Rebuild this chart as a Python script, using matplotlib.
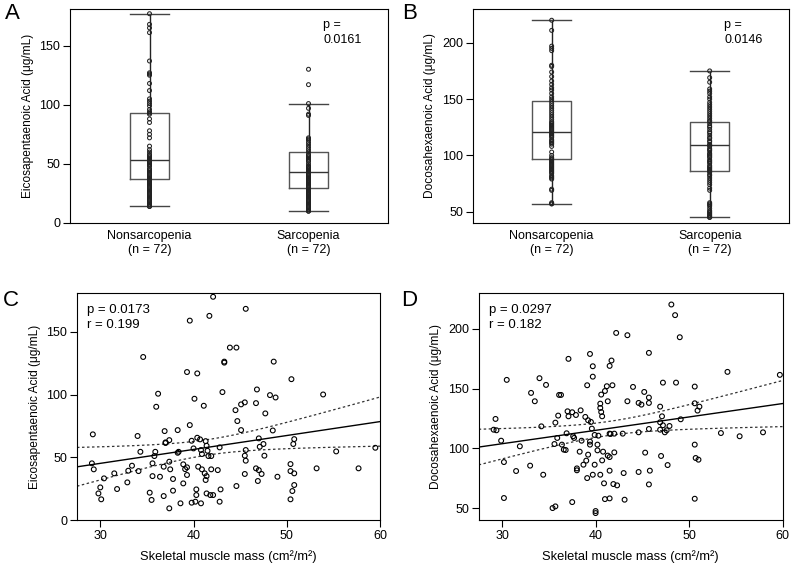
import matplotlib.pyplot as plt
import numpy as np

plt.rcParams['font.family'] = ['Liberation Sans', 'DejaVu Sans']
plt.rcParams['font.size'] = 9

groups = ['Nonsarcopenia\n(n = 72)', 'Sarcopenia\n(n = 72)']

epa_box = [[14, 37, 53, 93, 177], [10, 30, 43, 60, 101]]
dha_box = [[57, 97, 121, 148, 220], [45, 86, 109, 130, 175]]

# individual values in the strips (ug/mL)
epa_nonsarc = [177, 168, 165, 161, 137, 127, 126, 125, 118, 112, 105, 103, 101, 99, 96,
               94, 93, 92, 88, 85, 78, 75, 72, 65, 62, 60, 58, 57, 56, 55, 54, 53, 52, 51,
               50, 49, 48, 46, 45, 44, 43, 42, 41, 40, 39, 38, 37, 37, 36, 35, 34, 33, 32,
               31, 30, 29, 28, 27, 26, 25, 24, 23, 22, 21, 20, 19, 18, 17, 16, 15, 14, 14]
epa_sarc = [130, 117, 101, 97, 92, 91, 72, 71, 70, 68, 66, 64, 62, 60, 58, 57, 56, 55, 54,
            53, 52, 50, 48, 47, 46, 45, 44, 43, 42, 41, 40, 39, 38, 37, 36, 35, 34, 33, 32,
            31, 30, 29, 28, 27, 26, 25, 24, 23, 22, 21, 20, 19, 18, 17, 16, 15, 14, 13, 12,
            11, 10, 10, 22, 24, 26, 28, 34, 36, 38, 44, 46, 48]
dha_nonsarc = [220, 211, 197, 195, 193, 180, 179, 174, 170, 166, 163, 160, 158, 155, 152,
               150, 148, 146, 144, 142, 140, 138, 136, 134, 132, 130, 128, 126, 124, 122,
               121, 120, 119, 118, 116, 114, 112, 110, 108, 103, 100, 98, 97, 96, 95, 93,
               92, 90, 89, 88, 87, 86, 85, 84, 82, 81, 80, 79, 70, 69, 58, 57, 57, 125,
               127, 111, 113, 117, 123, 129, 91, 94]
dha_sarc = [175, 169, 165, 159, 157, 155, 152, 150, 147, 145, 143, 141, 139, 137, 135, 133,
            131, 130, 128, 126, 125, 123, 121, 120, 118, 116, 115, 113, 112, 110, 109, 108,
            106, 105, 104, 102, 101, 100, 99, 98, 96, 95, 94, 93, 91, 90, 89, 88, 87, 86,
            85, 83, 82, 80, 78, 76, 74, 71, 69, 58, 57, 56, 55, 53, 51, 50, 49, 48, 47, 46,
            45, 45]

# panel C: skeletal muscle mass vs EPA
smm_c = [29.2, 29.1, 29.3, 30.4, 30.0, 29.8, 30.1, 31.5, 31.8, 33.0, 32.9, 33.4, 34.0, 34.3,
         34.1, 35.3, 35.5, 35.6, 35.6, 35.8, 35.9, 36.0, 36.2, 36.4, 36.8, 36.8, 36.9, 37.0,
         37.0, 37.4, 37.4, 37.5, 37.4, 37.8, 37.8, 38.3, 38.3, 38.4, 38.6, 38.9, 39.1, 38.9,
         39.3, 39.3, 39.3, 39.6, 39.8, 40.0, 40.1, 39.8, 40.2, 40.4, 40.4, 40.5, 40.7, 40.8,
         40.9, 40.3, 40.3, 40.8, 40.9, 41.1, 41.3, 41.4, 41.5, 41.6, 41.9, 41.4, 41.2, 41.3,
         41.4, 41.8, 41.9, 42.1, 42.6, 42.8, 42.9, 42.8, 43.1,
         50.5, 46.8, 48.2, 48.8, 53.9, 45.5, 45.1, 46.7, 44.5, 47.7, 44.7, 45.1, 48.5, 47.0,
         50.8, 47.5, 47.1, 50.7, 45.6, 45.5, 45.6, 47.6, 55.3, 59.5, 46.7, 47.0, 47.3, 45.5,
         50.4, 50.4, 50.8, 53.2, 57.7, 49.0, 46.9, 44.6, 50.8, 50.6, 50.4,
         34.6, 39.6, 41.7, 42.1, 45.6, 43.3, 43.3, 43.9, 44.6, 48.6]
epa_c = [68.3, 45.2, 40.4, 33.2, 26.0, 21.2, 16.5, 37.2, 24.7, 39.3, 30.0, 43.3, 67.0, 54.4,
         39.0, 21.8, 16.0, 45.2, 35.0, 51.0, 54.4, 90.3, 100.7, 34.5, 42.5, 19.1, 70.9, 61.9,
         61.4, 63.7, 46.5, 40.4, 9.3, 32.7, 23.4, 71.7, 53.6, 54.4, 13.3, 44.4, 40.6, 29.2,
         42.0, 35.9, 118.0, 75.7, 63.2, 57.1, 96.7, 13.8, 14.6, 116.9, 65.6, 42.5, 64.3, 55.8,
         40.4, 24.4, 19.9, 13.3, 52.6, 91.1, 62.9, 59.2, 55.2, 51.0, 51.0, 35.0, 37.2, 31.9,
         21.2, 19.9, 40.4, 19.9, 39.8, 57.9, 24.4, 14.6, 102.0,
         112.3, 104.1, 99.6, 97.7, 100.1, 93.8, 92.2, 93.2, 87.6, 85.0, 78.9, 71.7, 71.4, 65.1,
         64.5, 60.6, 58.4, 60.6, 55.8, 51.3, 47.3, 51.3, 54.7, 57.6, 41.2, 39.8, 36.7, 36.7,
         44.6, 39.0, 37.2, 41.2, 41.2, 34.5, 31.1, 27.1, 27.9, 23.1, 16.5,
         130.0, 159.0, 162.8, 178.0, 168.4, 126.3, 125.5, 137.5, 137.5, 126.3]

# panel D: skeletal muscle mass vs DHA
smm_d = [42.2, 43.4, 39.4, 37.1, 41.7, 41.5, 39.7, 30.5, 34.0, 39.7, 34.7, 39.1, 41.2, 41.8,
         41.0, 44.0, 33.1, 40.6, 33.5, 36.1, 36.3, 40.5, 41.3, 43.4, 40.5, 40.6, 40.7, 44.6,
         29.3, 29.1, 29.4, 29.9, 30.2, 30.2, 31.9, 34.2, 31.5, 33.0, 34.4, 35.7, 36.0, 37.0,
         37.1, 37.5, 37.9, 38.4, 38.9, 39.2, 39.5, 39.6, 35.9, 36.9, 37.6, 37.7, 38.5, 39.4,
         39.9, 40.3, 41.5, 41.6, 42.0, 42.9, 44.6, 35.6, 36.4, 36.6, 36.8, 38.3, 39.4, 40.2,
         40.2, 39.2, 40.8, 41.3, 42.0, 39.0, 38.7, 38.0, 38.0, 39.9, 40.7, 41.5, 39.1, 39.7,
         40.5, 41.5, 40.9, 41.9, 42.3, 43.0, 44.6, 41.0, 41.5, 43.1, 37.5, 35.4, 35.7, 40.0,
         40.0,
         49.0, 45.7, 54.1, 59.7, 47.2, 48.6, 50.6, 45.2, 45.7, 45.7, 44.9, 46.9, 50.6, 51.1,
         50.9, 47.1, 49.1, 46.9, 47.9, 47.2, 46.9, 47.4, 47.6, 45.7, 53.4, 55.4, 57.9, 50.6,
         45.3, 47.0, 50.7, 51.0, 47.7, 45.8, 45.7, 50.6, 48.1, 48.5]
dha_d = [196.6, 194.7, 179.0, 174.9, 173.5, 169.0, 168.7, 157.3, 158.7, 160.0, 153.1, 152.8,
         152.0, 152.8, 148.0, 151.4, 146.4, 145.0, 139.4, 144.7, 144.7, 137.4, 139.4, 139.4,
         133.8, 130.4, 126.8, 138.0, 124.6, 115.6, 115.1, 106.4, 88.5, 58.4, 101.7, 118.4,
         81.0, 85.5, 77.9, 121.5, 127.4, 131.0, 126.8, 130.2, 127.9, 131.8, 126.3, 123.5,
         122.1, 116.5, 108.7, 112.6, 110.1, 108.7, 106.4, 105.6, 111.2, 110.6, 112.3, 112.0,
         112.3, 112.3, 113.4, 103.6, 103.1, 98.9, 98.6, 97.2, 103.1, 103.1, 98.3, 94.7, 97.2,
         93.9, 96.6, 89.7, 86.3, 83.2, 81.6, 86.3, 89.9, 92.7, 75.1, 77.9, 77.9, 81.3, 70.7,
         70.1, 69.0, 79.3, 80.2, 57.5, 58.1, 57.0, 55.0, 50.0, 51.4, 47.5, 45.8,
         193.0, 179.9, 164.0, 161.5, 155.0, 155.0, 151.7, 147.2, 142.5, 138.0, 136.6, 134.9,
         137.7, 134.9, 131.6, 126.8, 124.3, 121.8, 118.7, 119.3, 115.6, 113.4, 115.1, 116.2,
         112.8, 110.1, 113.4, 103.1, 96.4, 93.6, 91.9, 90.5, 86.0, 81.3, 69.8, 57.8, 220.4,
         211.5]

fig = plt.figure(figsize=(7.92, 5.68), dpi=100)
axA = fig.add_axes([0.0884, 0.6074, 0.4015, 0.3768])
axB = fig.add_axes([0.5968, 0.6074, 0.3990, 0.3768])
axC = fig.add_axes([0.0972, 0.0845, 0.3826, 0.3996])
axD = fig.add_axes([0.6044, 0.0845, 0.3838, 0.3996])


def box_panel(ax, box, strips, ylabel, ylim, yticks, ptext):
    stats = [dict(whislo=b[0], q1=b[1], med=b[2], q3=b[3], whishi=b[4], fliers=[]) for b in box]
    ax.bxp(stats, positions=[1, 2], widths=0.245, capwidths=0.245, showfliers=False,
           boxprops=dict(color='#555555', lw=1),
           medianprops=dict(color='#333333', lw=1),
           whiskerprops=dict(color='#222222', lw=1),
           capprops=dict(color='#444444', lw=1))
    for i, vals in enumerate(strips):
        ax.scatter(np.full(len(vals), i + 1), vals, s=8, facecolors='none',
                   edgecolors='#222222', linewidths=0.75, zorder=3)
    ax.set_xlim(0.5, 2.5)
    ax.set_ylim(*ylim)
    ax.set_yticks(yticks)
    ax.set_xticks([1, 2])
    ax.set_xticklabels(groups, linespacing=1.2)
    ax.tick_params(axis='x', length=0, pad=5)
    ax.tick_params(axis='y', length=5, pad=2)
    ax.set_ylabel(ylabel, labelpad=4, fontsize=8.6)
    ax.text(0.796, 0.955, ptext, transform=ax.transAxes, va='top', ha='left', linespacing=1.35)


def scatter_panel(ax, x, y, ylabel, ylim, yticks, ptext):
    x = np.array(x)
    y = np.array(y)
    ax.scatter(x, y, s=12, facecolors='none', edgecolors='black', linewidths=0.8, zorder=3)
    xs = np.linspace(27.5, 60, 200)
    b, a = np.polyfit(x, y, 1)
    n = len(x)
    s = np.sqrt(np.sum((y - (a + b * x)) ** 2) / (n - 2))
    se = s * np.sqrt(1 / n + (xs - x.mean()) ** 2 / np.sum((x - x.mean()) ** 2))
    fit = a + b * xs
    ax.plot(xs, fit, color='black', lw=1)
    ax.plot(xs, fit + 1.977 * se, color='#333333', lw=0.9, dashes=(2, 2))
    ax.plot(xs, fit - 1.977 * se, color='#333333', lw=0.9, dashes=(2, 2))
    ax.set_xlim(27.5, 60)
    ax.set_ylim(*ylim)
    ax.set_xticks([30, 40, 50, 60])
    ax.set_yticks(yticks)
    ax.tick_params(length=5, pad=2)
    ax.set_xlabel('Skeletal muscle mass (cm²/m²)', labelpad=6, fontsize=9.3)
    ax.set_ylabel(ylabel, labelpad=4, fontsize=8.6)
    ax.text(0.033, 0.95, ptext, transform=ax.transAxes, va='top', ha='left', linespacing=1.3,
            fontsize=9.5)


box_panel(axA, epa_box, [epa_nonsarc, epa_sarc], 'Eicosapentaenoic Acid (μg/mL)',
          (0, 181), [0, 50, 100, 150], 'p =\n0.0161')
box_panel(axB, dha_box, [dha_nonsarc, dha_sarc], 'Docosahexaenoic Acid (μg/mL)',
          (40, 230), [50, 100, 150, 200], 'p =\n0.0146')
scatter_panel(axC, smm_c, epa_c, 'Eicosapentaenoic Acid (μg/mL)', (0, 181),
              [0, 50, 100, 150], 'p = 0.0173\nr = 0.199')
scatter_panel(axD, smm_d, dha_d, 'Docosahexaenoic Acid (μg/mL)', (40, 230),
              [50, 100, 150, 200], 'p = 0.0297\nr = 0.182')

for lab, xy in zip('ABCD', [(0.006, 0.995), (0.508, 0.995), (0.004, 0.49), (0.506, 0.49)]):
    fig.text(xy[0], xy[1], lab, fontsize=16, va='top', ha='left')

plt.savefig('out.png', dpi=100)
